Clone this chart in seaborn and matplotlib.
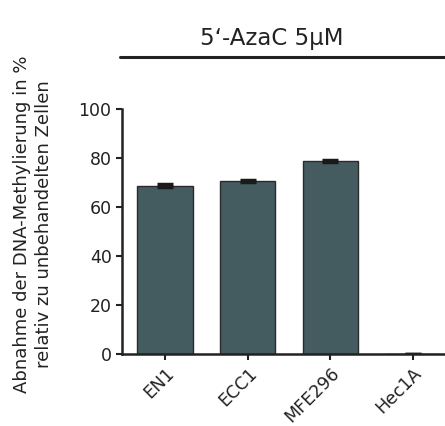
import matplotlib
matplotlib.use("Agg")
import matplotlib.pyplot as plt
import seaborn as sns
import pandas as pd
from matplotlib.lines import Line2D

cell_lines = ["EN1", "ECC1", "MFE296", "Hec1A"]
decrease = [68.7, 70.7, 78.6, 0.0]
errors = [0.5, 0.5, 0.4, 0.0]
yticks = [0, 20, 40, 60, 80, 100]
title = "5‘-AzaC 5µM"
ylabel = "Abnahme der DNA-Methylierung in %\nrelativ zu unbehandelten Zellen"

sns.set_style("ticks")
plt.rcParams["font.family"] = ["DejaVu Sans"]

df = pd.DataFrame({"line": cell_lines, "value": decrease})

fig = plt.figure(figsize=(4.45, 4.26), dpi=100)
ax = fig.add_axes([122/445, 1-354/426, 1-122/445, 245/426])

sns.barplot(data=df, x="line", y="value", color="#445b60", saturation=1,
            edgecolor="#2a2a2a", linewidth=1.0, width=0.67, ax=ax, errorbar=None)
ax.errorbar(range(len(cell_lines)), decrease, yerr=errors, fmt="none",
            ecolor="#1a1a1a", elinewidth=1.5, capsize=5.5, capthick=2.5)

ax.set_ylim(0, 100)
ax.set_xlim(-0.52, 3.39)
ax.set_yticks(yticks)
ax.set_xlabel("")
ax.set_ylabel("")
ax.tick_params(axis="both", labelsize=12.5, colors="#222222", length=4, width=1.5, direction="out")
ax.tick_params(axis="x", labelsize=12.5)
plt.setp(ax.get_xticklabels(), rotation=45, ha="right", rotation_mode="anchor")
for s in ["top", "right"]:
    ax.spines[s].set_visible(False)
for s in ["left", "bottom"]:
    ax.spines[s].set_linewidth(1.8)
    ax.spines[s].set_color("#222222")

fig.text(33/445, 1-224/426, ylabel, fontsize=13, rotation=90, ha="center", va="center",
         multialignment="center", linespacing=1.3, color="#222222")
fig.text(272/445, 1-38/426, title, fontsize=16.5, ha="center", va="center", color="#222222")
fig.add_artist(Line2D([120/445, 1.0], [1-57/426, 1-57/426], transform=fig.transFigure,
                      color="#222222", linewidth=2.2))

fig.savefig("out.png", dpi=100)
